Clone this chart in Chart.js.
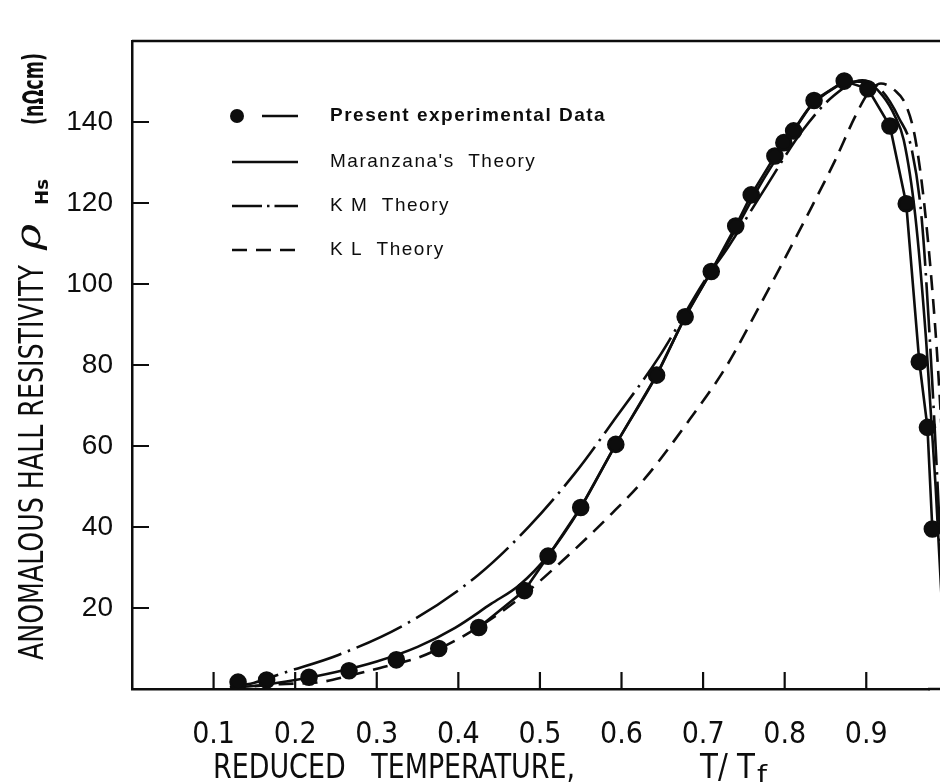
<!DOCTYPE html>
<html><head><meta charset="utf-8">
<script src="https://cdn.jsdelivr.net/npm/chart.js@4.4.0/dist/chart.umd.min.js"></script>
<style>
html,body{margin:0;padding:0;background:#fff;overflow:hidden;width:940px;height:782px}
canvas{display:block}
</style></head><body>
<canvas id="c" width="940" height="782" style="width:940px;height:782px"></canvas>
<script>
// ---- data ----
const expT   = [0.130,0.165,0.217,0.266,0.324,0.376,0.425,0.481,0.510,0.550,0.593,0.643,0.678,0.710,0.740,0.759,0.788,0.799,0.811,0.836,0.873,0.902,0.929,0.949,0.965,0.975,0.981];
const expRho = [1.7,2.2,2.9,4.5,7.2,10.0,15.2,24.3,32.8,44.8,60.4,77.5,91.9,103.1,114.3,122.0,131.6,134.9,137.8,145.3,150.1,148.2,139.0,119.8,80.8,64.6,39.5];

const maranzanaT   = [0.12,0.16,0.20,0.25,0.30,0.35,0.396,0.44,0.475,0.51,0.55,0.593,0.643,0.678,0.71,0.74,0.77,0.80,0.83,0.86,0.88,0.90,0.92,0.935,0.946,0.96,0.9734,0.985,0.995];
const maranzanaRho = [0.3,1.0,2.2,4.2,6.8,10.4,15.1,21.0,25.7,33.0,44.8,60.4,77.5,91.9,103.1,113.5,124.5,134.2,143.5,148.3,150.0,149.8,146.5,141.5,135.5,117.0,86.0,50.0,12.0];

const kmT   = [0.12,0.149,0.186,0.253,0.338,0.424,0.487,0.543,0.592,0.646,0.700,0.731,0.774,0.823,0.86,0.895,0.92,0.94,0.956,0.968,0.978,0.988,0.997];
const kmRho = [0.5,1.5,4.0,8.4,16.3,28.1,40.2,53.3,66.7,82.0,100.2,109.2,123.0,138.2,146.5,150.3,147.5,141.0,133.0,116.0,86.0,48.0,10.0];

const klT   = [0.121,0.182,0.231,0.271,0.304,0.353,0.402,0.438,0.475,0.524,0.589,0.630,0.683,0.728,0.769,0.802,0.833,0.862,0.886,0.902,0.918,0.935,0.949,0.96,0.972,0.9857,0.995];
const klRho = [0.2,1.2,1.7,3.5,5.2,7.9,12.6,17.0,22.4,31.0,43.5,52.3,66.4,79.5,94.5,107.0,119.0,130.6,141.2,147.0,149.5,147.8,144.0,136.0,118.0,86.0,55.0];

const xTickValues = [0.1,0.2,0.3,0.4,0.5,0.6,0.7,0.8,0.9];
const yTickValues = [20,40,60,80,100,120,140];
const seriesLabels = ['Present experimental Data', "Maranzana's  Theory", 'K M  Theory', 'K L  Theory'];
const xTitle = 'REDUCED   TEMPERATURE,';
const xTitleRight = 'T/ T';
const xTitleSub = 'f';
const yTitle = 'ANOMALOUS HALL RESISTIVITY';
const yTitleSym = 'ρ';
const yTitleSub = 'Hs';
const yTitleUnit = '(nΩcm)';

const pts = (xs, ys) => xs.map((x, i) => ({x, y: ys[i]}));
const INK = '#0d0d0d';
const NARROW = '"DejaVu Sans Condensed", "Liberation Sans Narrow", "Liberation Sans", sans-serif';
const CLIP = {left: 0, top: 2, right: 14, bottom: 0};
const X_MAX = 0.978;

const datasets = [
  { label: seriesLabels[0], data: pts(expT, expRho), showLine: true, borderColor: INK, borderWidth: 2.6,
    pointRadius: 7.5, pointHoverRadius: 7.5, pointBackgroundColor: INK, pointBorderColor: INK, tension: 0, clip: CLIP,
    segment: { borderColor: c => (c.p0.parsed.x < 0.42 ? 'rgba(0,0,0,0)' : INK) } },
  { label: seriesLabels[1], data: pts(maranzanaT, maranzanaRho), showLine: true, borderColor: INK, borderWidth: 2.6,
    pointRadius: 0, cubicInterpolationMode: 'monotone', clip: CLIP },
  { label: seriesLabels[2], data: pts(kmT, kmRho), showLine: true, borderColor: INK, borderWidth: 2.6,
    borderDash: [50, 7, 2.5, 7], pointRadius: 0, cubicInterpolationMode: 'monotone', clip: CLIP },
  { label: seriesLabels[3], data: pts(klT, klRho), showLine: true, borderColor: INK, borderWidth: 2.6,
    borderDash: [15, 9], pointRadius: 0, cubicInterpolationMode: 'monotone', clip: CLIP }
];

const framePlugin = {
  id: 'frame',
  beforeDatasetsDraw(chart) {
    const {ctx, chartArea: a, scales: {x, y}} = chart;
    ctx.save();
    ctx.strokeStyle = INK; ctx.lineWidth = 2.2;
    ctx.beginPath();
    xTickValues.forEach(v => { const px = x.getPixelForValue(v); ctx.moveTo(px, a.bottom); ctx.lineTo(px, a.bottom - 17); });
    yTickValues.forEach(v => { const py = y.getPixelForValue(v); ctx.moveTo(a.left, py); ctx.lineTo(a.left + 17, py); });
    ctx.stroke();
    ctx.lineWidth = 2.5;
    ctx.beginPath();
    ctx.moveTo(a.left, a.top); ctx.lineTo(chart.width, a.top);
    ctx.moveTo(a.right - 2, a.bottom); ctx.lineTo(chart.width, a.bottom);
    ctx.stroke();
    ctx.restore();
  }
};

const legendPlugin = {
  id: 'insideLegend',
  afterDatasetsDraw(chart) {
    const {ctx, chartArea: a} = chart;
    const rows = [75, 121, 165, 209];
    ctx.save();
    chart.data.datasets.forEach((ds, i) => {
      const yy = a.top + rows[i];
      ctx.strokeStyle = INK; ctx.fillStyle = INK; ctx.lineWidth = 2.6;
      if (i === 0) {
        ctx.beginPath(); ctx.arc(a.left + 105, yy, 7, 0, Math.PI * 2); ctx.fill();
        ctx.setLineDash([]);
        ctx.beginPath(); ctx.moveTo(a.left + 130, yy); ctx.lineTo(a.left + 166, yy); ctx.stroke();
      } else {
        ctx.setLineDash(i === 2 ? [30, 5, 2.5, 5] : (ds.borderDash || []));
        ctx.beginPath(); ctx.moveTo(a.left + 100, yy); ctx.lineTo(a.left + 166, yy); ctx.stroke();
        ctx.setLineDash([]);
      }
      ctx.font = (i === 0 ? 'bold ' : '') + '19px "Liberation Sans", Arial, sans-serif';
      ctx.letterSpacing = '1.5px';
      ctx.textBaseline = 'middle'; ctx.textAlign = 'left';
      ctx.fillText(ds.label, a.left + 198, yy);
    });
    ctx.restore();
  }
};

// draw text starting at (x, y) in current frame, horizontally squeezed to a target width
function fitText(ctx, text, x, y, width) {
  const m = ctx.measureText(text).width;
  ctx.save();
  ctx.translate(x, y);
  ctx.scale(width / m, 1);
  ctx.fillText(text, 0, 0);
  ctx.restore();
}

const titlePlugin = {
  id: 'axisTitles',
  afterDraw(chart) {
    const {ctx} = chart;
    ctx.save();
    ctx.fillStyle = INK; ctx.textBaseline = 'alphabetic'; ctx.textAlign = 'left';
    // x title
    ctx.font = '33px ' + NARROW;
    fitText(ctx, xTitle, 213, 778, 362);
    fitText(ctx, xTitleRight, 700, 778, 55);
    ctx.font = '23px ' + NARROW;
    fitText(ctx, xTitleSub, 757, 782, 10);
    // y title (rotated)
    ctx.translate(43, 660);
    ctx.rotate(-Math.PI / 2);
    ctx.font = '33px ' + NARROW;
    fitText(ctx, yTitle, 0, 0, 395);
    ctx.font = 'italic 36px "DejaVu Serif", serif';
    fitText(ctx, yTitleSym, 410, -3, 26);
    ctx.font = 'bold 18px ' + NARROW;
    fitText(ctx, yTitleSub, 455, 5, 26);
    ctx.font = 'bold 28px ' + NARROW;
    fitText(ctx, yTitleUnit, 535, 0, 72);
    ctx.restore();
  }
};

new Chart(document.getElementById('c'), {
  type: 'scatter',
  data: { datasets },
  options: {
    responsive: false, maintainAspectRatio: false, animation: false, devicePixelRatio: 1,
    layout: { padding: { top: 41, right: 0, left: 0, bottom: 0 } },
    plugins: { legend: { display: false }, tooltip: { enabled: false } },
    scales: {
      x: {
        type: 'linear', min: 0, position: 'bottom', bounds: 'data',
        afterDataLimits: s => { s.min = 0; s.max = X_MAX; },
        grid: { display: false, drawTicks: false },
        border: { display: true, color: INK, width: 2.5 },
        afterBuildTicks: s => { s.ticks = xTickValues.map(v => ({value: v})); },
        ticks: {
          autoSkip: false, maxRotation: 0, padding: 28, color: INK,
          font: { family: NARROW, size: 30 },
          callback: v => Number(v).toFixed(1)
        },
        afterFit: s => { s.height = 93; s.paddingLeft = 0; s.paddingRight = 0; }
      },
      y: {
        type: 'linear', min: 0, max: 160, position: 'left',
        grid: { display: false, drawTicks: false },
        border: { display: true, color: INK, width: 2.5 },
        afterBuildTicks: s => { s.ticks = yTickValues.map(v => ({value: v})); },
        ticks: {
          padding: 19, color: INK,
          font: { family: '"Liberation Sans", Arial, sans-serif', size: 28 },
          callback: v => String(v)
        },
        afterFit: s => { s.width = 132; s.paddingTop = 0; s.paddingBottom = 0; }
      }
    }
  },
  plugins: [framePlugin, legendPlugin, titlePlugin]
});
</script>
</body></html>
